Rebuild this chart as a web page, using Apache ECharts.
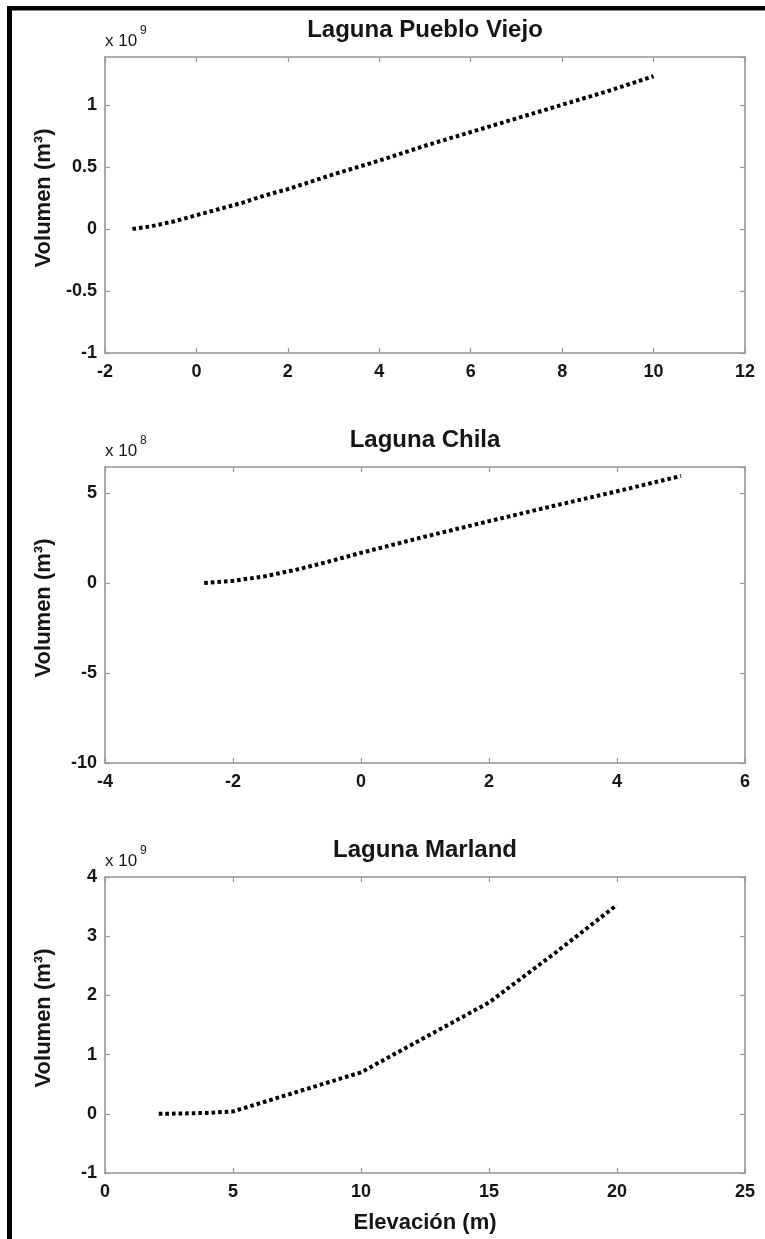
<!DOCTYPE html>
<html>
<head>
<meta charset="utf-8">
<script src="https://cdn.jsdelivr.net/npm/echarts@6/dist/echarts.min.js"></script>
<style>
  html, body { margin: 0; padding: 0; background: #fff; }
  #chart { width: 765px; height: 1239px; }
</style>
</head>
<body>
<div id="chart"></div>
<script>
// Stage–volume curves of three coastal lagoons.
// Elevation in metres; volume in units of the panel's multiplier (x 10^n m^3).

// Laguna Pueblo Viejo (volume x 10^9 m^3)
const pvElevation = [-1.4, -1, -0.5, 0, 0.5, 1, 1.5, 2, 3, 4, 5, 6, 7, 8, 9, 10];
const pvVolume    = [0, 0.02, 0.06, 0.11, 0.16, 0.21, 0.27, 0.32, 0.44, 0.55, 0.67, 0.78, 0.89, 1.0, 1.11, 1.23];

// Laguna Chila (volume x 10^8 m^3)
const chElevation = [-2.45, -2, -1.5, -1, -0.5, 0, 1, 2, 3, 4, 5];
const chVolume    = [0, 0.12, 0.38, 0.75, 1.2, 1.68, 2.58, 3.44, 4.28, 5.1, 5.95];

// Laguna Marland (volume x 10^9 m^3)
const mlElevation = [2.1, 3, 4, 5, 7.5, 10, 12.5, 15, 17.5, 20];
const mlVolume    = [0, 0.005, 0.015, 0.04, 0.37, 0.7, 1.29, 1.88, 2.69, 3.53];

// Panel titles, multiplier exponents and axis label text
const panelTitles = ['Laguna Pueblo Viejo', 'Laguna Chila', 'Laguna Marland'];
const exponents   = ['9', '8', '9'];
const yAxisTitle  = 'Volumen (m³)';
const xAxisTitle  = 'Elevación (m)';

// Axis ranges [min, max, step]
const xRanges = [[-2, 12, 2], [-4, 6, 2], [0, 25, 5]];
const yRanges = [[-1, 1.385, 0.5], [-10, 6.45, 5], [-1, 4, 1]];

const series = [
  { elev: pvElevation, vol: pvVolume },
  { elev: chElevation, vol: chVolume },
  { elev: mlElevation, vol: mlVolume }
];

const FONT = "'Liberation Sans', Arial, Helvetica, sans-serif";
const AXIS_GREY = '#979797';
const TEXT = '#151515';
const GRID_LEFT = 105, GRID_WIDTH = 640, GRID_HEIGHT = 296;
const gridTops = [57, 467, 877];

const chart = echarts.init(document.getElementById('chart'), null, { renderer: 'canvas' });

const grids = [], xAxes = [], yAxes = [], lines = [], graphics = [];

const frameLine = { show: true, onZero: false, lineStyle: { color: AXIS_GREY, width: 1.6 } };
const innerTick = { show: true, inside: true, length: 5, lineStyle: { color: AXIS_GREY, width: 1.2 } };
const tickLabel = { color: TEXT, fontSize: 18, fontWeight: 'bold', fontFamily: FONT };

gridTops.forEach((top, i) => {
  const [xMin, xMax, xStep] = xRanges[i];
  const [yMin, yMax, yStep] = yRanges[i];
  const yMaxIsTick = Math.abs(yMax / yStep - Math.round(yMax / yStep)) < 1e-9;

  grids.push({ left: GRID_LEFT, top: top, width: GRID_WIDTH, height: GRID_HEIGHT,
               containLabel: false, outerBoundsMode: 'none' });

  // bottom x axis with labels
  xAxes.push({
    gridIndex: i, type: 'value', position: 'bottom',
    min: xMin, max: xMax, interval: xStep,
    axisLine: frameLine, axisTick: innerTick,
    axisLabel: Object.assign({ margin: 10 }, tickLabel),
    splitLine: { show: false },
    name: i === 2 ? xAxisTitle : '',
    nameLocation: 'middle', nameGap: 39,
    nameTextStyle: { color: TEXT, fontSize: 22, fontWeight: 'bold', fontFamily: FONT }
  });
  // top x axis (box side, ticks only)
  xAxes.push({
    gridIndex: i, type: 'value', position: 'top',
    min: xMin, max: xMax, interval: xStep,
    axisLine: frameLine, axisTick: innerTick,
    axisLabel: { show: false }, splitLine: { show: false }
  });
  // left y axis with labels
  yAxes.push({
    gridIndex: i, type: 'value', position: 'left',
    min: yMin, max: yMax, interval: yStep,
    axisLine: frameLine, axisTick: innerTick,
    axisLabel: Object.assign({ margin: 8, showMaxLabel: yMaxIsTick }, tickLabel),
    splitLine: { show: false },
    name: yAxisTitle, nameLocation: 'middle', nameGap: 50,
    nameTextStyle: { color: TEXT, fontSize: 22, fontWeight: 'bold', fontFamily: FONT,
                     padding: [0, 0, 0, 14] }
  });
  // right y axis (box side, ticks only)
  yAxes.push({
    gridIndex: i, type: 'value', position: 'right',
    min: yMin, max: yMax, interval: yStep,
    axisLine: frameLine, axisTick: innerTick,
    axisLabel: { show: false }, splitLine: { show: false }
  });

  lines.push({
    type: 'line',
    xAxisIndex: i * 2, yAxisIndex: i * 2,
    data: series[i].elev.map((e, k) => [e, series[i].vol[k]]),
    showSymbol: false, smooth: false, silent: true,
    lineStyle: { color: '#000', width: 4, type: [3.6, 3], cap: 'butt', join: 'miter' },
    z: 5
  });

  // panel title
  graphics.push({
    type: 'text', x: GRID_LEFT + GRID_WIDTH / 2, y: top - 27,
    style: { text: panelTitles[i], fill: TEXT, fontSize: 24, fontWeight: 'bold', fontFamily: FONT,
             align: 'center', verticalAlign: 'middle', textAlign: 'center', textVerticalAlign: 'middle' }
  });
  // axis multiplier "x 10^n"
  graphics.push({
    type: 'text', x: GRID_LEFT, y: top - 16,
    style: { text: 'x 10', fill: TEXT, fontSize: 17, fontFamily: FONT,
             align: 'left', verticalAlign: 'middle', textAlign: 'left', textVerticalAlign: 'middle' }
  });
  graphics.push({
    type: 'text', x: GRID_LEFT + 35, y: top - 26,
    style: { text: exponents[i], fill: TEXT, fontSize: 12, fontFamily: FONT,
             align: 'left', verticalAlign: 'middle', textAlign: 'left', textVerticalAlign: 'middle' }
  });
});

// black page frame on the left and top edges
graphics.push({ type: 'rect', shape: { x: 7, y: 6, width: 5, height: 1233 }, style: { fill: '#000' } });
graphics.push({ type: 'rect', shape: { x: 7, y: 6, width: 758, height: 4.5 }, style: { fill: '#000' } });

chart.setOption({
  backgroundColor: '#fff',
  animation: false,
  grid: grids,
  xAxis: xAxes,
  yAxis: yAxes,
  series: lines,
  graphic: graphics
});
</script>
</body>
</html>
